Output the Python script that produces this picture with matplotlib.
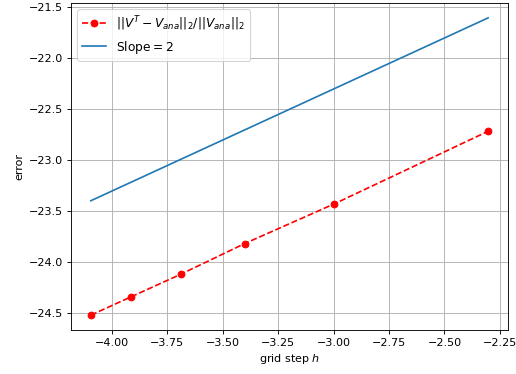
import matplotlib
matplotlib.use("Agg")
import matplotlib.pyplot as plt
import numpy as np

# log of grid step
log_h = np.array([-4.094, -3.912, -3.689, -3.401, -2.996, -2.303])
# log of relative error
log_err = np.array([-24.52, -24.34, -24.12, -23.82, -23.43, -22.72])

# reference line
ref_x = np.array([-4.094, -2.303])
ref_y = np.array([-23.40, -21.61])

fig = plt.figure(figsize=(516 / 80, 374 / 80), dpi=80)
fig.subplots_adjust(left=71 / 516, right=508 / 516, top=1 - 3 / 374, bottom=1 - 330 / 374)

plt.plot(log_h, log_err, 'o--', color="red", label=r"$||V^T - V_{ana}||_2/||V_{ana}||_2$")
plt.plot(ref_x, ref_y, label=r"Slope$=2$")
plt.xlabel("grid step $h$")
plt.ylabel("error")
plt.grid(True)
plt.legend(loc="upper left", fontsize=11)

plt.savefig("out.png", dpi=80)
